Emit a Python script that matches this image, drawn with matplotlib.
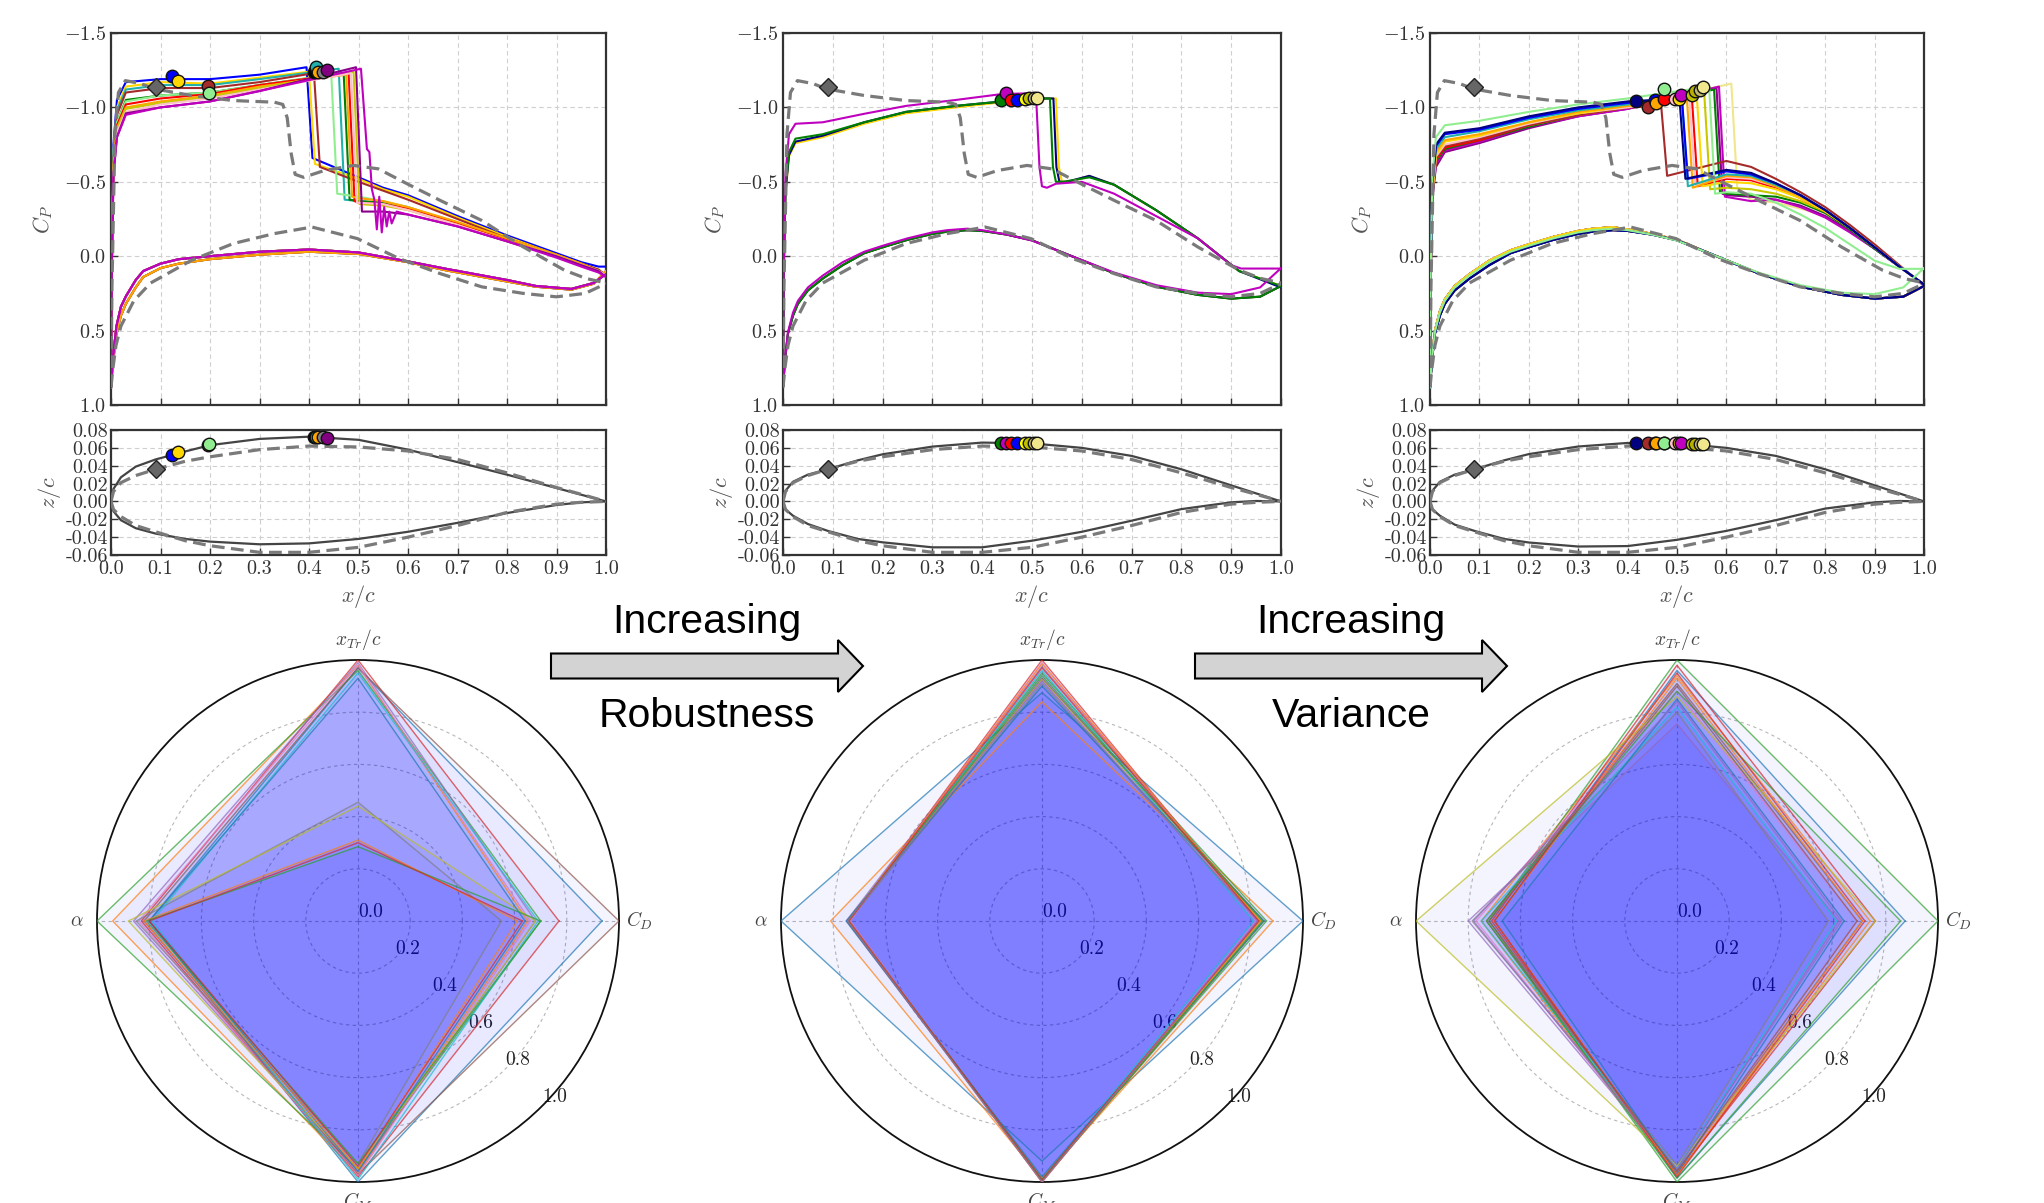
import numpy as np
import matplotlib
matplotlib.use("Agg")
import matplotlib.pyplot as plt
from matplotlib.patches import FancyArrow

plt.rcParams['font.family'] = 'serif'
plt.rcParams['font.serif'] = ['cmr10', 'DejaVu Serif']
plt.rcParams['mathtext.fontset'] = 'cm'
plt.rcParams['axes.formatter.use_mathtext'] = True

# ---------------------------------------------------------------- data
# Baseline airfoil (dashed) pressure distribution
BASE_UP_X = [0.0, 0.002, 0.008, 0.015, 0.029, 0.06, 0.088, 0.163, 0.247, 0.33, 0.347, 0.356,
             0.364, 0.372, 0.389, 0.431, 0.49, 0.54, 0.598, 0.665, 0.749, 0.833, 0.916, 0.96, 1.0]
BASE_UP_CP = [0.88, 0.2, -0.82, -1.1, -1.18, -1.16, -1.124, -1.08, -1.046, -1.035, -1.02, -0.93,
              -0.69, -0.55, -0.53, -0.576, -0.61, -0.587, -0.487, -0.375, -0.24, -0.062, 0.094, 0.15, 0.18]
BASE_LO_X = [0.0, 0.004, 0.01, 0.02, 0.046, 0.08, 0.163, 0.247, 0.33, 0.406, 0.498, 0.582,
             0.665, 0.749, 0.833, 0.9, 0.958, 1.0]
BASE_LO_CP = [0.88, 0.75, 0.6, 0.47, 0.3, 0.18, 0.027, -0.085, -0.152, -0.196, -0.118, 0.016,
              0.117, 0.206, 0.25, 0.273, 0.25, 0.184]
BASE_MARK_X, BASE_MARK_CP, BASE_MARK_Z = 0.09, -1.14, 0.036

# Baseline airfoil geometry (dashed)
GEO_X = [0.0, 0.005, 0.02, 0.05, 0.09, 0.15, 0.2, 0.3, 0.4, 0.5, 0.6, 0.7, 0.8, 0.9, 0.95, 1.0]
BASE_Z_UP = [0.0, 0.011, 0.021, 0.029, 0.036, 0.045, 0.050, 0.058, 0.062, 0.061, 0.0565, 0.047, 0.032, 0.0156, 0.008, 0.0]
BASE_Z_LO = [0.0, -0.009, -0.017, -0.027, -0.034, -0.044, -0.0496, -0.057, -0.057, -0.0514, -0.040, -0.027, -0.0123, -0.003, -0.001, 0.0]
# Optimised airfoils (solid)
OPT1_Z_UP = [0.0, 0.014, 0.027, 0.039, 0.047, 0.056, 0.063, 0.070, 0.0725, 0.069, 0.058, 0.044, 0.030, 0.015, 0.0075, 0.0]
OPT1_Z_LO = [0.0, -0.011, -0.021, -0.030, -0.036, -0.042, -0.045, -0.048, -0.047, -0.042, -0.034, -0.024, -0.013, -0.004, -0.001, 0.0]
OPT2_Z_UP = [0.0, 0.012, 0.022, 0.030, 0.036, 0.046, 0.0528, 0.0614, 0.0659, 0.065, 0.060, 0.051, 0.036, 0.018, 0.009, 0.0]
OPT2_Z_LO = [0.0, -0.009, -0.016, -0.0253, -0.033, -0.042, -0.0458, -0.0514, -0.0514, -0.044, -0.034, -0.0216, -0.0086, -0.001, 0.0005, 0.0]
OPT3_Z_UP = [0.0, 0.012, 0.022, 0.030, 0.036, 0.046, 0.053, 0.0615, 0.0655, 0.065, 0.060, 0.051, 0.036, 0.018, 0.009, 0.0]
OPT3_Z_LO = [0.0, -0.009, -0.016, -0.026, -0.033, -0.042, -0.046, -0.0505, -0.050, -0.043, -0.033, -0.021, -0.008, -0.001, 0.0005, 0.0]

# Shared stagnation / leading-edge stations
STAG_X = [0.0, 0.0015]
STAG_CP = [0.88, 0.1]
LE_X1 = [0.005, 0.012, 0.03, 0.1, 0.2, 0.3]

# Panel 1
P1_COLORS = ['blue', 'gold', 'lightseagreen', 'brown', 'green', 'lightgreen', 'red', 'orange',
             '#c8c800', 'pink', 'darkmagenta', 'm']
P1_LE = [[-0.75, -1.05, -1.17, -1.19, -1.19, -1.22],
         [-0.70, -1.00, -1.14, -1.17, -1.16, -1.20],
         [-0.70, -0.98, -1.12, -1.15, -1.15, -1.19],
         [-0.65, -0.95, -1.10, -1.13, -1.13, -1.17],
         [-0.62, -0.90, -1.05, -1.08, -1.10, -1.15],
         [-0.62, -0.90, -1.04, -1.08, -1.10, -1.15],
         [-0.60, -0.88, -1.02, -1.06, -1.09, -1.15],
         [-0.60, -0.86, -1.00, -1.04, -1.08, -1.14],
         [-0.58, -0.85, -0.99, -1.03, -1.07, -1.13],
         [-0.56, -0.83, -0.97, -1.02, -1.06, -1.12],
         [-0.55, -0.80, -0.96, -1.00, -1.04, -1.11],
         [-0.55, -0.80, -0.95, -1.00, -1.04, -1.11]]
P1_XS = [0.395, 0.40, 0.46, 0.41, 0.47, 0.445, 0.48, 0.475, 0.49, 0.485, 0.495, 0.505]
P1_PRE = [-1.27, -1.24, -1.26, -1.23, -1.23, -1.22, -1.23, -1.22, -1.24, -1.23, -1.27, -1.26]
P1_FOOT = [-0.66, -0.62, -0.38, -0.60, -0.38, -0.42, -0.37, -0.40, -0.35, -0.36, -0.30, -0.72]
REC1_X = [0.5, 0.55, 0.6, 0.7, 0.8, 0.9, 0.95, 0.985, 1.0]
P1_REC = [[-0.53, -0.46, -0.41, -0.27, -0.14, -0.02, 0.04, 0.07, 0.07],
          [-0.52, -0.45, -0.40, -0.26, -0.13, -0.01, 0.05, 0.09, 0.13],
          [-0.37, -0.36, -0.33, -0.22, -0.11, 0.00, 0.06, 0.10, 0.13],
          [-0.50, -0.44, -0.38, -0.25, -0.12, -0.01, 0.05, 0.09, 0.13],
          [-0.37, -0.36, -0.32, -0.22, -0.11, 0.00, 0.06, 0.10, 0.13],
          [-0.40, -0.37, -0.33, -0.22, -0.11, 0.00, 0.06, 0.10, 0.13],
          [-0.36, -0.35, -0.32, -0.22, -0.11, 0.00, 0.06, 0.10, 0.13],
          [-0.39, -0.37, -0.33, -0.23, -0.12, -0.01, 0.05, 0.10, 0.13],
          [-0.36, -0.34, -0.31, -0.21, -0.10, 0.00, 0.06, 0.10, 0.13],
          [-0.36, -0.35, -0.31, -0.21, -0.10, 0.00, 0.06, 0.10, 0.13],
          [-0.30, -0.30, -0.28, -0.20, -0.10, 0.00, 0.06, 0.10, 0.14],
          [-0.30, -0.30, -0.28, -0.20, -0.10, 0.01, 0.07, 0.11, 0.14]]
P1_WIG_X = [0.522, 0.527, 0.532, 0.537, 0.542, 0.547, 0.552, 0.557, 0.562, 0.567, 0.577]
P1_WIG_CP = [-0.70, -0.45, -0.38, -0.18, -0.40, -0.16, -0.33, -0.20, -0.30, -0.22, -0.30]
LO1_X = [0.0, 0.004, 0.011, 0.02, 0.03, 0.05, 0.065, 0.1, 0.137, 0.2, 0.3, 0.4, 0.5, 0.6, 0.677,
         0.8, 0.858, 0.93, 0.975, 1.0]
LO1_A = [0.88, 0.68, 0.47, 0.34, 0.27, 0.16, 0.10, 0.05, 0.02, 0.00, -0.03, -0.045, -0.025, 0.035,
         0.085, 0.16, 0.20, 0.22, 0.18, 0.12]
LO1_B = [0.88, 0.72, 0.52, 0.40, 0.32, 0.21, 0.14, 0.08, 0.05, 0.02, -0.01, -0.03, -0.015, 0.04,
         0.095, 0.17, 0.205, 0.225, 0.185, 0.10]
P1_LO_VAR = [1, 1, 0, 1, 0, 0, 0, 1, 0, 0, 0, 0]
P1_MK_COLORS = ['blue', 'gold', 'brown', 'lightgreen', 'black', 'lightseagreen', 'orange', 'gray', 'purple']
P1_MK_X = [0.123, 0.135, 0.195, 0.198, 0.41, 0.414, 0.418, 0.428, 0.437]
P1_MK_CP = [-1.21, -1.18, -1.145, -1.10, -1.24, -1.27, -1.24, -1.235, -1.25]
P1_MK_Z = [0.052, 0.055, 0.063, 0.064, 0.072, 0.072, 0.072, 0.072, 0.0715]

# Panel 2
P2_COLORS = ['gold', 'navy', 'green', 'm']
P2_UP_X = [[0.0, 0.0015, 0.005, 0.012, 0.025, 0.08, 0.163, 0.247, 0.347, 0.44, 0.53, 0.548, 0.554, 0.56, 0.575, 0.615, 0.665, 0.749, 0.833, 0.916, 1.0],
           [0.0, 0.0015, 0.005, 0.012, 0.025, 0.08, 0.163, 0.247, 0.347, 0.44, 0.525, 0.543, 0.549, 0.555, 0.57, 0.615, 0.665, 0.749, 0.833, 0.916, 1.0],
           [0.0, 0.0015, 0.005, 0.012, 0.025, 0.08, 0.163, 0.247, 0.347, 0.44, 0.52, 0.536, 0.542, 0.548, 0.563, 0.615, 0.665, 0.749, 0.833, 0.916, 1.0],
           [0.0, 0.0015, 0.005, 0.012, 0.025, 0.08, 0.163, 0.247, 0.347, 0.44, 0.5, 0.508, 0.515, 0.52, 0.53, 0.548, 0.6, 0.665, 0.749, 0.833, 0.9, 0.92, 1.0]]
P2_UP_CP = [[0.88, 0.1, -0.42, -0.67, -0.76, -0.80, -0.89, -0.96, -1.00, -1.035, -1.06, -1.06, -0.6, -0.5, -0.5, -0.54, -0.48, -0.31, -0.12, 0.10, 0.20],
            [0.88, 0.1, -0.43, -0.68, -0.77, -0.81, -0.90, -0.97, -1.01, -1.04, -1.06, -1.06, -0.6, -0.5, -0.5, -0.54, -0.48, -0.31, -0.12, 0.10, 0.21],
            [0.88, 0.1, -0.45, -0.70, -0.79, -0.82, -0.90, -0.97, -1.01, -1.04, -1.06, -1.06, -0.6, -0.5, -0.5, -0.53, -0.48, -0.31, -0.12, 0.10, 0.20],
            [0.88, 0.1, -0.55, -0.82, -0.89, -0.90, -0.957, -1.01, -1.05, -1.09, -1.095, -1.09, -0.6, -0.47, -0.46, -0.487, -0.50, -0.42, -0.27, -0.12, 0.06, 0.083, 0.083]]
LO23_X = [0.0, 0.004, 0.01, 0.02, 0.03, 0.05, 0.08, 0.12, 0.163, 0.2, 0.25, 0.3, 0.33, 0.37, 0.4,
          0.45, 0.5, 0.58, 0.665, 0.75, 0.833, 0.9, 0.958, 1.0]
LO23_A = [0.88, 0.68, 0.50, 0.37, 0.29, 0.20, 0.12, 0.03, -0.04, -0.08, -0.13, -0.17, -0.185, -0.195,
          -0.18, -0.15, -0.11, 0.0, 0.115, 0.205, 0.26, 0.285, 0.272, 0.20]
LO23_B = [0.88, 0.70, 0.52, 0.40, 0.32, 0.23, 0.15, 0.06, -0.02, -0.06, -0.11, -0.15, -0.165, -0.175,
          -0.17, -0.145, -0.107, 0.0, 0.115, 0.205, 0.26, 0.285, 0.272, 0.20]
LO23_C = [0.88, 0.69, 0.51, 0.38, 0.30, 0.21, 0.13, 0.04, -0.03, -0.07, -0.12, -0.16, -0.175, -0.185,
          -0.175, -0.145, -0.105, 0.0, 0.11, 0.195, 0.245, 0.255, 0.21, 0.08]
P2_LO_VAR = [1, 1, 1, 2]
P2_MK_COLORS = ['green', 'm', 'red', 'blue', 'yellow', 'y', 'darkkhaki', 'khaki']
P2_MK_X = [0.438, 0.448, 0.458, 0.469, 0.485, 0.494, 0.505, 0.51]
P2_MK_CP = [-1.053, -1.10, -1.05, -1.053, -1.055, -1.06, -1.064, -1.064]
P2_MK_Z = [0.066, 0.066, 0.066, 0.066, 0.066, 0.0658, 0.0656, 0.0655]

# Panel 3
LE_X3 = [0.005, 0.012, 0.03, 0.1, 0.2, 0.3, 0.4]
P3_COLORS = ['khaki', 'darkmagenta', 'm', 'green', '#c8c800', 'red', 'brown', 'pink', 'gold',
             'orange', 'lightseagreen', 'blue', 'navy', 'lightgreen']
P3_LE = [[-0.42, -0.64, -0.73, -0.78, -0.88, -0.95, -1.00],
         [-0.40, -0.60, -0.70, -0.76, -0.86, -0.94, -0.99],
         [-0.40, -0.62, -0.71, -0.77, -0.87, -0.94, -0.99],
         [-0.42, -0.64, -0.72, -0.78, -0.87, -0.95, -1.00],
         [-0.43, -0.65, -0.74, -0.79, -0.88, -0.95, -1.00],
         [-0.43, -0.65, -0.73, -0.78, -0.88, -0.95, -1.00],
         [-0.44, -0.66, -0.74, -0.79, -0.88, -0.95, -1.00],
         [-0.44, -0.67, -0.75, -0.80, -0.89, -0.96, -1.00],
         [-0.45, -0.68, -0.77, -0.81, -0.90, -0.96, -1.01],
         [-0.46, -0.70, -0.78, -0.82, -0.90, -0.97, -1.01],
         [-0.48, -0.72, -0.80, -0.84, -0.92, -0.98, -1.02],
         [-0.50, -0.74, -0.82, -0.85, -0.93, -0.99, -1.03],
         [-0.50, -0.75, -0.83, -0.86, -0.94, -1.00, -1.04],
         [-0.55, -0.80, -0.88, -0.91, -0.97, -1.02, -1.06]]
P3_XS = [0.61, 0.58, 0.585, 0.575, 0.555, 0.53, 0.468, 0.525, 0.54, 0.52, 0.51, 0.51, 0.505, 0.565]
P3_PRE = [-1.16, -1.13, -1.14, -1.12, -1.10, -1.07, -1.01, -1.06, -1.08, -1.06, -1.05, -1.06, -1.06, -1.14]
P3_FOOT = [-0.46, -0.42, -0.40, -0.43, -0.45, -0.47, -0.54, -0.48, -0.47, -0.46, -0.47, -0.52, -0.52, -0.42]
REC3_X = [0.6, 0.65, 0.7, 0.75, 0.8, 0.85, 0.9, 0.95, 1.0]
P3_REC = [[-0.45, -0.38, -0.36, -0.32, -0.27, -0.17, -0.05, 0.07, 0.19],
          [-0.41, -0.40, -0.38, -0.34, -0.27, -0.17, -0.05, 0.07, 0.19],
          [-0.39, -0.37, -0.38, -0.33, -0.26, -0.16, -0.05, 0.07, 0.19],
          [-0.42, -0.41, -0.40, -0.36, -0.29, -0.18, -0.05, 0.07, 0.19],
          [-0.46, -0.45, -0.42, -0.37, -0.30, -0.19, -0.06, 0.07, 0.19],
          [-0.52, -0.51, -0.46, -0.39, -0.30, -0.19, -0.06, 0.07, 0.19],
          [-0.64, -0.60, -0.52, -0.43, -0.33, -0.21, -0.08, 0.06, 0.20],
          [-0.53, -0.52, -0.47, -0.40, -0.31, -0.19, -0.06, 0.07, 0.19],
          [-0.50, -0.49, -0.45, -0.39, -0.30, -0.19, -0.06, 0.07, 0.19],
          [-0.54, -0.53, -0.47, -0.40, -0.31, -0.19, -0.06, 0.07, 0.19],
          [-0.55, -0.54, -0.48, -0.41, -0.31, -0.19, -0.06, 0.07, 0.19],
          [-0.57, -0.55, -0.49, -0.41, -0.31, -0.19, -0.06, 0.07, 0.19],
          [-0.58, -0.56, -0.49, -0.41, -0.31, -0.19, -0.06, 0.07, 0.19],
          [-0.43, -0.42, -0.36, -0.28, -0.19, -0.08, 0.03, 0.085, 0.085]]
P3_LO_VAR = [0, 0, 0, 0, 0, 1, 0, 0, 0, 1, 1, 1, 1, 2]
P3_MK_COLORS = ['navy', 'brown', 'blue', 'orange', 'red', 'lightgreen', 'pink', 'gold', 'm',
                'y', '#b8b000', 'darkkhaki', 'khaki']
P3_MK_X = [0.416, 0.441, 0.456, 0.458, 0.474, 0.474, 0.495, 0.504, 0.508, 0.53, 0.537, 0.546, 0.552]
P3_MK_CP = [-1.046, -1.006, -1.05, -1.03, -1.055, -1.124, -1.055, -1.055, -1.086, -1.08, -1.11, -1.118, -1.135]
P3_MK_Z = [0.0655, 0.0655, 0.0655, 0.0655, 0.0655, 0.0655, 0.065, 0.065, 0.065, 0.064, 0.064, 0.064, 0.0638]

# Radar data (normalised): order of axes C_D, x_Tr/c, alpha, C_M
RADAR_LABELS = [r'$C_D$', r'$x_{Tr}/c$', r'$\alpha$', r'$C_M$']
RADAR_ANGLES = [0, 90, 180, 270]
R1_CD = [0.935, 0.65, 0.70, 0.77, 0.68, 1.00, 0.66, 0.55, 0.68, 0.69, 0.64, 0.61, 0.70, 0.63]
R1_XTR = [0.97, 0.98, 0.96, 1.00, 0.99, 0.97, 0.98, 0.455, 0.44, 0.95, 0.93, 0.31, 0.285, 0.30]
R1_AL = [0.80, 0.94, 1.00, 0.83, 0.86, 0.82, 0.84, 0.85, 0.88, 0.79, 0.80, 0.82, 0.81, 0.80]
R1_CM = [1.00, 0.97, 0.95, 0.98, 0.96, 0.97, 0.975, 0.93, 0.95, 0.99, 0.96, 0.95, 0.93, 0.94]
R2_CD = [1.00, 0.885, 0.86, 0.83, 0.84, 0.85, 0.82, 0.83, 0.84, 0.81, 0.85, 0.835, 0.845, 0.83, 0.825]
R2_XTR = [0.875, 0.84, 0.95, 1.00, 0.975, 0.93, 0.99, 0.91, 0.925, 0.96, 0.90, 0.985, 0.94, 0.97, 0.92]
R2_AL = [1.00, 0.81, 0.745, 0.74, 0.75, 0.745, 0.735, 0.74, 0.745, 0.74, 0.75, 0.74, 0.745, 0.74, 0.745]
R2_CM = [0.92, 0.99, 0.99, 1.00, 0.99, 0.995, 1.00, 0.99, 0.985, 0.99, 0.98, 1.00, 0.995, 0.99, 1.00]
R3_CD = [0.874, 0.74, 1.00, 0.76, 0.62, 0.71, 0.69, 0.58, 0.76, 0.61, 0.64, 0.71, 0.857, 0.72, 0.63, 0.69]
R3_XTR = [0.96, 0.94, 1.00, 0.98, 0.755, 0.91, 0.88, 0.80, 0.86, 0.82, 0.85, 0.93, 0.88, 0.95, 0.84, 0.90]
R3_AL = [0.70, 0.75, 0.72, 0.71, 0.80, 0.73, 0.77, 0.785, 1.00, 0.75, 0.67, 0.70, 0.73, 0.70, 0.78, 0.72]
R3_CM = [0.985, 0.97, 1.00, 0.97, 0.955, 0.96, 0.965, 0.935, 0.94, 0.95, 0.97, 0.975, 0.985, 0.98, 0.95, 0.96]

# ---------------------------------------------------------------- figure
W, H = 2044, 1203
fig = plt.figure(figsize=(W / 100, H / 100), dpi=100)


def rect(l, t, r, b):
    return [l / W, 1 - b / H, (r - l) / W, (b - t) / H]


TICK_FS = 14.5
LAB_C = '#555555'
DASH = dict(color='#7a7a7a', lw=2.3, ls=(0, (4, 2)), zorder=4)


def style_axes(ax):
    for s in ax.spines.values():
        s.set_color('#333333')
        s.set_linewidth(1.6)
    ax.tick_params(direction='in', labelsize=TICK_FS, colors='#333333', length=5, width=1.0)
    ax.grid(True, ls=(0, (4, 3)), color='#cfcfcf', lw=0.8)
    ax.set_axisbelow(True)


def build_upper(le_x, le_vals, xs, pre, foot, rec_x, rec_vals, extra_x=None, extra_cp=None):
    px = list(STAG_X) + list(le_x) + [xs, xs + 0.012]
    py = list(STAG_CP) + list(le_vals) + [pre, foot]
    if extra_x is not None:
        px += list(extra_x)
        py += list(extra_cp)
    last = px[-1]
    for rx, rv in zip(rec_x, rec_vals):
        if rx > last + 0.004:
            px.append(rx)
            py.append(rv)
    return px, py


cp_rects = [rect(111, 33, 606, 405), rect(783, 33, 1281, 405), rect(1430, 33, 1924, 405)]
geo_rects = [rect(111, 430, 606, 555), rect(783, 430, 1281, 555), rect(1430, 430, 1924, 555)]
cp_axes = [fig.add_axes(r) for r in cp_rects]
geo_axes = [fig.add_axes(r) for r in geo_rects]

# Panel 1 curves
ax = cp_axes[0]
lo1 = [LO1_A, LO1_B]
for i, c in enumerate(P1_COLORS):
    if c == 'm':
        px, py = build_upper(LE_X1, P1_LE[i], P1_XS[i], P1_PRE[i], P1_FOOT[i], REC1_X, P1_REC[i],
                             P1_WIG_X, P1_WIG_CP)
    else:
        px, py = build_upper(LE_X1, P1_LE[i], P1_XS[i], P1_PRE[i], P1_FOOT[i], REC1_X, P1_REC[i])
    ax.plot(px, py, color=c, lw=1.5, zorder=3)
    ax.plot(LO1_X, lo1[P1_LO_VAR[i]], color=c, lw=1.5, zorder=3)

# Panel 2 curves
ax = cp_axes[1]
lo23 = [LO23_A, LO23_B, LO23_C]
for i, c in enumerate(P2_COLORS):
    ax.plot(P2_UP_X[i], P2_UP_CP[i], color=c, lw=1.5, zorder=3)
    ax.plot(LO23_X, lo23[P2_LO_VAR[i]], color=c, lw=1.5, zorder=3)

# Panel 3 curves
ax = cp_axes[2]
for i, c in enumerate(P3_COLORS):
    px, py = build_upper(LE_X3, P3_LE[i], P3_XS[i], P3_PRE[i], P3_FOOT[i], REC3_X, P3_REC[i])
    ax.plot(px, py, color=c, lw=1.5, zorder=3)
    ax.plot(LO23_X, lo23[P3_LO_VAR[i]], color=c, lw=1.5, zorder=3)

mk_sets = [(P1_MK_COLORS, P1_MK_X, P1_MK_CP, P1_MK_Z),
           (P2_MK_COLORS, P2_MK_X, P2_MK_CP, P2_MK_Z),
           (P3_MK_COLORS, P3_MK_X, P3_MK_CP, P3_MK_Z)]
opt_geo = [(OPT1_Z_UP, OPT1_Z_LO), (OPT2_Z_UP, OPT2_Z_LO), (OPT3_Z_UP, OPT3_Z_LO)]

for k in range(3):
    ax = cp_axes[k]
    ax.plot(BASE_UP_X, BASE_UP_CP, **DASH)
    ax.plot(BASE_LO_X, BASE_LO_CP, **DASH)
    ax.plot([BASE_MARK_X], [BASE_MARK_CP], marker='D', ms=9, color='#666666', mec='#222222', mew=1.0, zorder=6)
    cols, mx, mcp, mz = mk_sets[k]
    for c, x, cp in zip(cols, mx, mcp):
        ax.plot([x], [cp], marker='o', ms=9, color=c, mec='#111111', mew=1.0, zorder=6)
    ax.set_xlim(0, 1)
    ax.set_ylim(1.0, -1.5)
    ax.set_xticks(np.arange(0, 1.01, 0.1))
    ax.set_xticklabels([])
    ax.set_yticks([-1.5, -1.0, -0.5, 0.0, 0.5, 1.0])
    style_axes(ax)
    ax.set_ylabel(r'$C_P$', fontsize=16, color=LAB_C, labelpad=6)

    g = geo_axes[k]
    zu, zl = opt_geo[k]
    g.plot(GEO_X, zu, color='#444444', lw=1.6, zorder=3)
    g.plot(GEO_X, zl, color='#444444', lw=1.6, zorder=3)
    g.plot(GEO_X, BASE_Z_UP, **DASH)
    g.plot(GEO_X, BASE_Z_LO, **DASH)
    g.plot([BASE_MARK_X], [BASE_MARK_Z], marker='D', ms=9, color='#666666', mec='#222222', mew=1.0, zorder=6)
    for c, x, z in zip(cols, mx, mz):
        g.plot([x], [z], marker='o', ms=9, color=c, mec='#111111', mew=1.0, zorder=6)
    g.set_xlim(0, 1)
    g.set_ylim(-0.06, 0.08)
    g.set_xticks(np.arange(0, 1.01, 0.1))
    g.set_yticks(np.arange(-0.06, 0.081, 0.02))
    g.set_xticklabels([f'{v:.1f}' for v in np.arange(0, 1.01, 0.1)])
    g.set_yticklabels([f'{v:.2f}' for v in np.arange(-0.06, 0.081, 0.02)])
    style_axes(g)
    g.tick_params(axis='y', pad=2)
    g.set_xlabel(r'$x/c$', fontsize=16, color=LAB_C, labelpad=4)
    g.set_ylabel(r'$z/c$', fontsize=16, color=LAB_C, labelpad=2)

# ---------------------------------------------------------------- radar charts
R = 261
centers = [358, 1042, 1677]
radar_sets = [(R1_CD, R1_XTR, R1_AL, R1_CM), (R2_CD, R2_XTR, R2_AL, R2_CM), (R3_CD, R3_XTR, R3_AL, R3_CM)]
for cx, (cd, xtr, al, cm) in zip(centers, radar_sets):
    ax = fig.add_axes(rect(cx - R, 921 - R, cx + R, 921 + R), projection='polar')
    th = np.deg2rad(RADAR_ANGLES + [360])
    for i in range(len(cd)):
        r = [cd[i], xtr[i], al[i], cm[i], cd[i]]
        ax.fill(th, r, color='blue', alpha=0.042, lw=0, zorder=2)
        ax.plot(th, r, color=f'C{i % 10}', lw=1.0, alpha=0.7, zorder=3)
    ax.set_ylim(0, 1.0)
    ax.set_thetagrids(RADAR_ANGLES, RADAR_LABELS, fontsize=14, color='#444444')
    ax.set_rgrids([0.0, 0.2, 0.4, 0.6, 0.8, 1.0], labels=['0.0', '0.2', '0.4', '0.6', '0.8', '1.0'],
                  angle=315, fontsize=14, color='#222222')
    ax.grid(True, ls=(0, (3, 3)), color='#888888', lw=0.8, alpha=0.6)
    ax.spines['polar'].set_color('#111111')
    ax.spines['polar'].set_linewidth(1.3)
    ax.tick_params(axis='x', pad=4)

# ---------------------------------------------------------------- arrows and captions
for x0, x1, top, bottom in [(551, 863, 'Increasing', 'Robustness'), (1195, 1507, 'Increasing', 'Variance')]:
    arr = FancyArrow(x0 / W, 1 - 666 / H, (x1 - x0) / W, 0, width=25 / H, head_width=52 / H,
                     head_length=25 / W, length_includes_head=True, transform=fig.transFigure,
                     facecolor='#d3d3d3', edgecolor='black', lw=1.5)
    fig.add_artist(arr)
    xm = (x0 + x1) / 2 / W
    fig.text(xm, 1 - 633 / H, top, ha='center', va='baseline', fontsize=29.5, family='Liberation Sans')
    fig.text(xm, 1 - 727 / H, bottom, ha='center', va='baseline', fontsize=29.5, family='Liberation Sans')

fig.savefig('out.png', dpi=100, facecolor='white')
